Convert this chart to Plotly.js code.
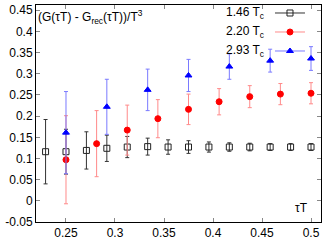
<!DOCTYPE html>
<html>
<head>
<meta charset="utf-8">
<script src="https://cdn.plot.ly/plotly-3.0.1.min.js"></script>
<style>html,body{margin:0;padding:0;background:#fff;}#chart{width:332px;height:240px;}</style>
</head>
<body>
<div id="chart"></div>
<script>
// tauT positions
const tauA = [11/48, 12/48, 13/48, 14/48, 15/48, 16/48, 17/48, 18/48, 19/48, 20/48, 21/48, 22/48, 23/48, 24/48];
const valA = [0.116, 0.116, 0.119, 0.124, 0.127, 0.128, 0.127, 0.127, 0.127, 0.127, 0.127, 0.127, 0.127, 0.127];
const errA = [0.076, 0.053, 0.044, 0.031, 0.025, 0.020, 0.017, 0.015, 0.012, 0.010, 0.009, 0.008, 0.008, 0.008];

const tauB = [8/32, 9/32, 10/32, 11/32, 12/32, 13/32, 14/32, 15/32, 16/32];
const valB = [0.097, 0.135, 0.167, 0.194, 0.216, 0.234, 0.246, 0.252, 0.254];
const errB = [0.104, 0.078, 0.059, 0.045, 0.036, 0.031, 0.026, 0.025, 0.025];

const tauC = [6/24, 7/24, 8/24, 9/24, 10/24, 11/24, 12/24];
const valC = [0.161, 0.222, 0.262, 0.296, 0.317, 0.331, 0.336];
const errC = [0.097, 0.065, 0.049, 0.038, 0.030, 0.027, 0.028];

const seriesNames = ["1.46 T<sub>c</sub>", "2.20 T<sub>c</sub>", "2.93 T<sub>c</sub>"];
const xTicks = [0.25, 0.3, 0.35, 0.4, 0.45, 0.5];
const yTicks = [-0.05, 0, 0.05, 0.1, 0.15, 0.2, 0.25, 0.3, 0.35, 0.4, 0.45];

const styles = [
  {sym: 'square-open', size: 6, mcol: '#222222', ecol: '#333333'},
  {sym: 'circle', size: 6, mcol: '#ff0000', ecol: '#ff8a8a'},
  {sym: 'triangle-up', size: 6, mcol: '#0000ff', ecol: '#7a7aff'}
];
const sets = [[tauA, valA, errA], [tauB, valB, errB], [tauC, valC, errC]];

const traces = [];
sets.forEach((s, i) => {
  traces.push({
    x: s[0], y: s[1], type: 'scatter', mode: 'markers', showlegend: false,
    marker: {symbol: styles[i].sym, size: styles[i].size, color: styles[i].mcol, line: {color: styles[i].mcol, width: 1}},
    error_y: {type: 'data', array: s[2], visible: true, color: styles[i].ecol, thickness: 1, width: 2}
  });
});
// legend keys (no data drawn)
sets.forEach((s, i) => {
  traces.push({
    x: [null], y: [null], type: 'scatter', mode: 'lines+markers', name: ' ', showlegend: true,
    line: {color: styles[i].ecol, width: 1},
    marker: {symbol: styles[i].sym, size: styles[i].size, color: styles[i].mcol, line: {color: styles[i].mcol, width: 1}}
  });
});

const rowY = [0.963, 0.876, 0.788];
const annots = [
  {text: "(G(τT) - G<sub>rec</sub>(τT))/T<sup>3</sup>", xref: 'paper', yref: 'paper', x: 0.0, y: 0.945, xanchor: 'left', yanchor: 'middle', showarrow: false, font: {size: 12, color: '#000'}},
  {text: "τT", xref: 'paper', yref: 'paper', x: 0.933, y: 0.065, xanchor: 'center', yanchor: 'middle', showarrow: false, font: {size: 12, color: '#000'}}
];
seriesNames.forEach((n, i) => {
  annots.push({text: n, xref: 'paper', yref: 'paper', x: 0.807, y: rowY[i], xanchor: 'right', yanchor: 'middle', showarrow: false, font: {size: 12, color: '#000'}});
});

const layout = {
  width: 332, height: 240,
  margin: {l: 36, r: 11, t: 5, b: 18, autoexpand: false},
  paper_bgcolor: '#fff', plot_bgcolor: '#fff',
  font: {family: 'Liberation Sans, Arial, sans-serif', size: 12, color: '#000'},
  xaxis: {range: [0.2194, 0.5102], tickvals: xTicks, ticktext: xTicks.map(v => String(v)), ticks: 'inside', ticklen: 4, tickcolor: '#888', showgrid: false, zeroline: false, showline: true, linecolor: '#000', linewidth: 1, mirror: 'allticks', tickfont: {size: 12}},
  yaxis: {range: [-0.05, 0.4624], tickvals: yTicks, ticktext: yTicks.map(v => String(v)), ticks: 'inside', ticklen: 4, tickcolor: '#888', showgrid: false, zeroline: false, showline: true, linecolor: '#000', linewidth: 1, mirror: 'allticks', tickfont: {size: 12}},
  showlegend: true,
  legend: {x: 0.821, y: 1.030, xanchor: 'left', yanchor: 'top', bgcolor: 'rgba(0,0,0,0)', font: {size: 9}, tracegroupgap: 0},
  annotations: annots
};

Plotly.newPlot('chart', traces, layout, {displayModeBar: false, staticPlot: true});
</script>
</body>
</html>
